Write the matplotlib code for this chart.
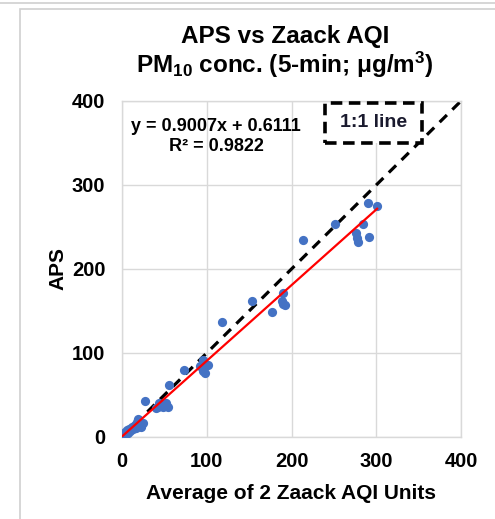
import numpy as np
import matplotlib
matplotlib.use("Agg")
import matplotlib.pyplot as plt
from matplotlib.lines import Line2D
from matplotlib.patches import Rectangle

plt.rcParams['font.family'] = ['Liberation Sans', 'DejaVu Sans']
plt.rcParams['mathtext.fontset'] = 'custom'
plt.rcParams['mathtext.rm'] = 'Liberation Sans:bold'
plt.rcParams['mathtext.default'] = 'rm'

# average of 2 Zaack AQI units vs APS
zaack = [1, 2, 3, 4, 5, 6, 7, 8, 10, 12, 13, 15, 16, 18, 19, 20, 22, 23, 25, 27,
         40, 42, 44, 46, 48, 50, 52, 54, 55, 73,
         92, 95, 96, 98, 102,
         118, 153, 177, 189, 190, 190, 192,
         213, 251, 276, 277, 278, 284, 290, 291, 301]
aps = [1, 4, 0, 6, 3, 8, 5, 9, 7, 12, 10, 14, 11, 18, 22, 15, 13, 12, 17, 43,
       34, 36, 40, 38, 36, 38, 40, 36, 62, 80,
       84, 92, 78, 76, 86,
       137, 162, 149, 162, 171, 158, 157,
       235, 253, 243, 237, 232, 254, 279, 238, 275]

slope = 0.9007
intercept = 0.6111
r2 = 0.9822

ticks = [0, 100, 200, 300, 400]

fig = plt.figure(figsize=(4.95, 5.19), dpi=100)
ax = fig.add_axes([122 / 495, 1 - 437 / 519, 339 / 495, 336 / 519])

# chart frame lines (gray)
fig.add_artist(Line2D([0, 1], [1 - 3 / 519, 1 - 3 / 519], color='#d0d0d0', lw=1.2))
fig.add_artist(Rectangle((20 / 495, -0.1), 1.2, 1 - 9 / 519 + 0.1, fill=False,
                         edgecolor='#d0d0d0', lw=1.2))

ax.set_xlim(0, 400)
ax.set_ylim(0, 400)
ax.set_xticks(ticks)
ax.set_yticks(ticks)
ax.grid(True, color='#d9d9d9', lw=1)
ax.set_axisbelow(True)
for s in ax.spines.values():
    s.set_color('#d9d9d9')
    s.set_linewidth(1)
ax.tick_params(length=0, labelsize=14.5)
ax.tick_params(axis='x', pad=11)
ax.tick_params(axis='y', pad=12)
for lab in ax.get_xticklabels() + ax.get_yticklabels():
    lab.set_fontweight('bold')

# 1:1 line
ax.plot([0, 400], [0, 400], color='black', lw=2.3, ls=(0, (3.2, 2.4)), zorder=2)
ax.scatter(zaack, aps, s=44, color='#4472C4', zorder=3, linewidths=0)
xs = np.array([0, max(zaack)])
ax.plot(xs, slope * xs + intercept, color='#FF0000', lw=1.6, zorder=4)

ax.text(111, 370, 'y = %.4fx + %.4f' % (slope, intercept), ha='center', va='center',
        fontsize=13, fontweight='bold')
ax.text(111, 346, 'R² = %.4f' % r2, ha='center', va='center',
        fontsize=13, fontweight='bold')

ax.add_patch(Rectangle((240, 350), 114, 47.5, fc='white', ec='black', lw=2.6,
                       ls=(0, (3.2, 1.8)), zorder=5))
ax.text(297, 374, '1:1 line', ha='center', va='center', fontsize=14,
        fontweight='bold', color='#1a1a2e', zorder=6)

ax.set_xlabel('Average of 2 Zaack AQI Units', fontsize=15, fontweight='bold', labelpad=9)
ax.set_ylabel('APS', fontsize=15, fontweight='bold', labelpad=3)

fig.text(285 / 495, 1 - 37 / 519, 'APS vs Zaack AQI', ha='center', va='center',
         fontsize=17.5, fontweight='bold')
fig.text(285 / 495, 1 - 65 / 519, 'PM$_{10}$ conc. (5-min; μg/m$^{3}$)', ha='center', va='center',
         fontsize=17.5, fontweight='bold')

fig.savefig('out.png', dpi=100)
